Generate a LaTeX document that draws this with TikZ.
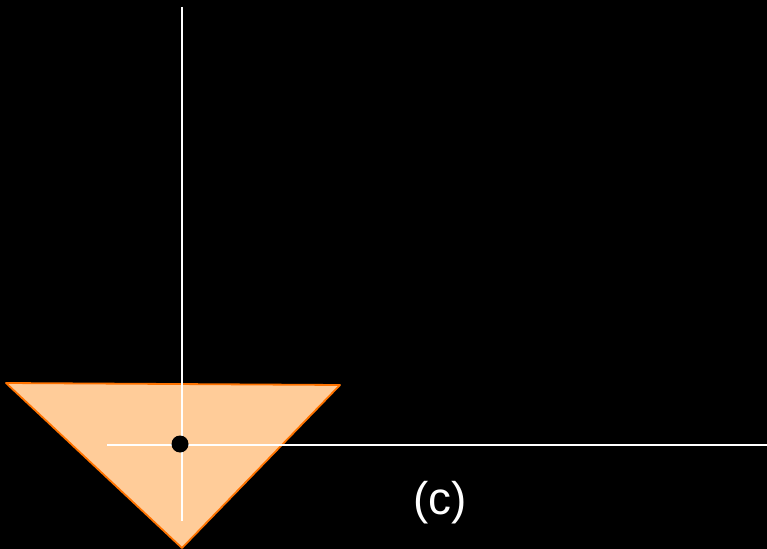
\documentclass[tikz,border=0pt]{standalone}
\usepackage{fontspec}
\setmainfont{Liberation Sans}
\begin{document}
\begin{tikzpicture}[x=1bp,y=-1bp,
  axis/.style={draw=white,line width=2bp},
  tri/.style={draw=orange!90!red,line width=1.8bp,line join=round},
  lbl/.style={text=white,font=\fontsize{46}{50}\selectfont,inner sep=0pt}]
\fill[black] (0,0) rectangle (767,549);
\useasboundingbox (0,0) rectangle (767,549);
\coordinate (A) at (6,383);
\coordinate (B) at (340,385);
\coordinate (C) at (182,548);
\fill[fill=orange!40!white] (A) -- (B) -- (C) -- cycle;
\draw[tri] (A) -- (B) -- (C) -- cycle;
\coordinate (vt) at (181.5,7);
\coordinate (vb) at (181.5,521);
\coordinate (hl) at (107,445);
\coordinate (hr) at (767,445);
\draw[axis] (vt) -- (vb);
\draw[axis] (hl) -- (hr);
\node[circle,fill=black,minimum size=17bp,inner sep=0pt] (dot) at (180,444) {};
\node[lbl] (c) at (440,503) {(c)};
\end{tikzpicture}
\end{document}
